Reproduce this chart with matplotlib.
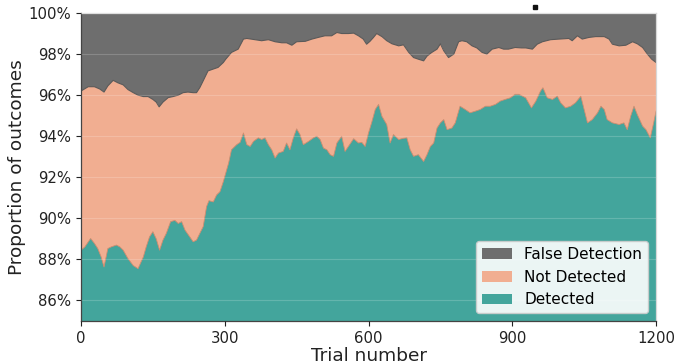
import matplotlib
matplotlib.use("Agg")
import matplotlib.pyplot as plt
from matplotlib.lines import Line2D
from matplotlib.ticker import FuncFormatter
import numpy as np

# Outcome shares (%) over the trial sequence
trial_detected = [0, 8, 20, 28, 35, 42, 48, 56, 63, 74, 81, 88, 98, 109, 119, 130, 136, 143, 150, 157,
                  164, 171, 178, 187, 196, 203, 210, 217, 227, 234, 241, 248, 255, 262, 267, 276, 283, 290,
                  297, 301, 308, 314, 325, 332, 339, 346, 353, 360, 370, 377, 384, 391, 398, 405, 412, 422,
                  429, 436, 443, 450, 457, 464, 475, 485, 492, 499, 506, 513, 520, 527, 534, 544, 551, 558,
                  569, 579, 586, 593, 600, 607, 614, 621, 628, 638, 645, 652, 663, 673, 680, 687, 694, 704,
                  715, 722, 729, 736, 743, 750, 757, 764, 774, 781, 791, 802, 812, 823, 833, 844, 854, 865,
                  875, 885, 896, 906, 914, 928, 940, 949, 959, 964, 973, 984, 994, 1001, 1011, 1022, 1032,
                  1043, 1050, 1057, 1067, 1078, 1085, 1092, 1098, 1109, 1123, 1133, 1140, 1147, 1154, 1161,
                  1172, 1179, 1188, 1195, 1200]
detected = [88.45, 88.61, 89.02, 88.78, 88.53, 88.12, 87.63, 88.53, 88.61, 88.70, 88.61, 88.45, 88.04,
            87.70, 87.55, 88.12, 88.61, 89.10, 89.35, 89.00, 88.45, 88.94, 89.27, 89.84, 89.90, 89.75,
            89.84, 89.43, 89.10, 88.86, 88.94, 89.27, 89.60, 90.57, 90.86, 90.80, 91.14, 91.30, 91.79,
            92.12, 92.69, 93.34, 93.59, 93.70, 94.16, 93.59, 93.50, 93.75, 93.92, 93.84, 93.92, 93.59,
            93.34, 92.94, 93.18, 93.26, 93.67, 93.34, 93.92, 94.36, 94.08, 93.59, 93.75, 93.92, 94.00,
            93.84, 93.42, 93.34, 93.10, 93.02, 93.67, 94.00, 93.26, 93.50, 93.88, 93.67, 93.70, 93.50,
            94.16, 94.70, 95.30, 95.55, 94.97, 94.57, 93.67, 94.08, 93.84, 93.90, 93.92, 93.34, 93.02,
            93.10, 92.77, 93.10, 93.50, 93.67, 94.40, 94.65, 94.81, 94.32, 94.40, 94.65, 95.46, 95.30,
            95.14, 95.22, 95.30, 95.46, 95.46, 95.55, 95.71, 95.79, 95.87, 96.04, 96.04, 95.87, 95.38,
            95.70, 96.20, 96.36, 95.87, 95.79, 95.95, 95.63, 95.38, 95.46, 95.63, 95.95, 95.30, 94.65,
            94.81, 95.14, 95.46, 95.30, 94.81, 94.65, 94.57, 94.65, 94.32, 94.97, 95.46, 95.05, 94.49,
            94.32, 93.92, 94.65, 95.22]

trial_false = [0, 15, 28, 39, 48, 56, 67, 77, 88, 98, 109, 119, 130, 140, 150, 157, 163, 171, 182, 192,
               203, 213, 223, 234, 241, 248, 255, 265, 276, 286, 297, 302, 314, 328, 339, 346, 363, 377,
               391, 405, 419, 429, 440, 450, 468, 482, 495, 509, 523, 534, 544, 558, 569, 579, 589, 596,
               603, 610, 617, 628, 638, 649, 663, 673, 684, 694, 704, 715, 722, 732, 743, 750, 757, 767,
               778, 788, 795, 805, 816, 826, 837, 847, 858, 872, 882, 892, 906, 919, 928, 942, 952, 963,
               980, 998, 1018, 1025, 1036, 1046, 1060, 1074, 1092, 1102, 1109, 1123, 1137, 1151, 1161,
               1172, 1182, 1191, 1200]
false_detection = [3.80, 3.59, 3.59, 3.70, 3.85, 3.55, 3.28, 3.40, 3.50, 3.73, 3.88, 4.00, 4.07, 4.07,
                   4.21, 4.34, 4.57, 4.34, 4.12, 4.07, 4.00, 3.88, 3.85, 3.88, 3.88, 3.63, 3.30, 2.82,
                   2.73, 2.65, 2.41, 2.25, 1.92, 1.76, 1.27, 1.24, 1.30, 1.35, 1.30, 1.40, 1.45, 1.45,
                   1.57, 1.40, 1.38, 1.27, 1.19, 1.11, 1.11, 0.95, 1.00, 1.00, 0.98, 1.11, 1.27, 1.52,
                   1.38, 1.20, 1.00, 1.15, 1.35, 1.50, 1.60, 1.55, 1.92, 2.17, 2.25, 2.33, 2.10, 1.92,
                   1.76, 1.50, 1.84, 2.17, 2.00, 1.40, 1.35, 1.40, 1.60, 1.70, 1.92, 2.00, 1.76, 1.68,
                   1.76, 1.76, 1.68, 1.70, 1.70, 1.76, 1.52, 1.40, 1.30, 1.27, 1.24, 1.35, 1.11, 1.27,
                   1.19, 1.15, 1.15, 1.27, 1.52, 1.60, 1.57, 1.40, 1.50, 1.68, 2.00, 2.25, 2.41]

series_labels = ["False Detection", "Not Detected", "Detected"]
x_ticks = [0, 300, 600, 900, 1200]
y_ticks = [86, 88, 90, 92, 94, 96, 98, 100]

c_false = "#6e6e6e"
c_missed = "#f1ae91"
c_detected = "#43a59c"

fig, ax = plt.subplots(figsize=(6.78, 3.64), dpi=100)
fig.subplots_adjust(left=0.1195, right=0.9676, bottom=0.1181, top=0.9643)

tf = np.asarray(trial_false, dtype=float)
upper = 100.0 - np.asarray(false_detection)

# stacked layers, drawn from the top share downwards
h_false = ax.fill_between(tf, upper, 100.0, color=c_false, lw=0, label=series_labels[0])
h_missed = ax.fill_between(tf, 0.0, upper, color=c_missed, lw=0, label=series_labels[1])
h_det = ax.fill_between(trial_detected, 0.0, detected, color=c_detected, lw=0, label=series_labels[2])
ax.plot(tf, upper, color="#5a5a5a", lw=0.8)
ax.plot(trial_detected, detected, color="#cf8d70", lw=0.6)

ax.set_xlim(0, 1200)
ax.set_ylim(85, 100)
ax.set_xticks(x_ticks)
ax.set_yticks(y_ticks)
ax.yaxis.set_major_formatter(FuncFormatter(lambda v, p: f"{v:.0f}%"))
ax.tick_params(labelsize=10.7, colors="#222222", length=3.5, width=0.8)

ax.yaxis.grid(True, color="white", alpha=0.18, lw=0.8)
ax.set_axisbelow(False)

for side in ("left", "bottom"):
    ax.spines[side].set_color("#444444")
    ax.spines[side].set_linewidth(0.9)
for side in ("top", "right"):
    ax.spines[side].set_color("#d8d8d8")
    ax.spines[side].set_linewidth(0.9)

ax.set_xlabel("Trial number", fontsize=13.3, color="#222222", labelpad=1)
ax.set_ylabel("Proportion of outcomes", fontsize=13.3, color="#222222", labelpad=2)

ax.legend(handles=[h_false, h_missed, h_det], loc="lower right", fontsize=11,
          framealpha=0.9, edgecolor="#cccccc", fancybox=True)

# small square mark above the plot area
fig.add_artist(Line2D([535 / 678], [1 - 7 / 364], marker="s", markersize=3, color="#111111",
                      linestyle="none", transform=fig.transFigure))

fig.savefig("out.png", dpi=100)
